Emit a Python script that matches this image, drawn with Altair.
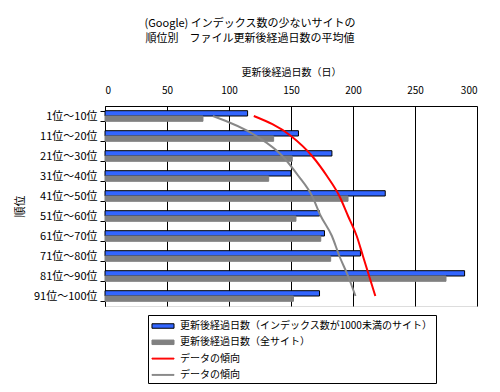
import altair as alt
import pandas as pd

ranks = ["1位～10位", "11位～20位", "21位～30位", "31位～40位", "41位～50位",
         "51位～60位", "61位～70位", "71位～80位", "81位～90位", "91位～100位"]
blue_vals = [115, 156, 183, 150, 226, 173, 177, 206, 290, 173]
gray_vals = [79, 136, 151, 132, 196, 154, 174, 182, 275, 152]
red_trend = [120, 150, 167, 179, 189, 196, 203, 208, 213, 218]
gray_trend = [87, 122, 143, 156, 167, 174, 183, 189, 196, 202]

s1 = "更新後経過日数（インデックス数が1000未満のサイト）"
s2 = "更新後経過日数（全サイト）"
t1 = "データの傾向1"
t2 = "データの傾向2"
series_domain = [s1, s2, t1, t2]
fill_colors = ["#3366FF", "#808080", "#FF0000", "#888888"]
stroke_colors = ["#000000", "#808080", "#FF0000", "#888888"]
legend_shapes = ["M-1.47,-0.3H1.47V0.3H-1.47Z", "M-1.47,-0.3H1.47V0.3H-1.47Z",
                 "M-1.47,-0.06H1.47V0.06H-1.47Z", "M-1.47,-0.06H1.47V0.06H-1.47Z"]

rows = []
for name, vals, kind in [(s1, blue_vals, "bar"), (s2, gray_vals, "bar"),
                         (t1, red_trend, "line"), (t2, gray_trend, "line")]:
    for r, v in zip(ranks, vals):
        rows.append({"rank": r, "series": name, "value": v, "kind": kind})
df = pd.DataFrame(rows)

FONT = "Noto Sans CJK JP"


def make_legend():
    return alt.Legend(
        orient="none", legendX=43, legendY=209, direction="vertical",
        title=None, fillColor="white", strokeColor="black", padding=3,
        rowPadding=3.3, symbolSize=225, symbolOffset=4, labelOffset=9,
        labelFontSize=10, labelFont=FONT, labelColor="black", labelLimit=400,
        symbolStrokeWidth=1, symbolOpacity=1,
        labelExpr="indexof(datum.label, 'データの傾向') == 0 ? 'データの傾向' : datum.label",
    )


color = alt.Color("series:N", scale=alt.Scale(domain=series_domain, range=fill_colors),
                  legend=make_legend())
stroke = alt.Stroke("series:N", scale=alt.Scale(domain=series_domain, range=stroke_colors),
                    legend=make_legend())
shape = alt.Shape("series:N", scale=alt.Scale(domain=series_domain, range=legend_shapes),
                  legend=make_legend())

y_enc = alt.Y(
    "rank:N", sort=ranks,
    scale=alt.Scale(paddingInner=0.47, paddingOuter=0.235),
    axis=alt.Axis(title="順位", tickBand="extent", tickSize=5, tickColor="black",
                  domainColor="black", labelPadding=3, labelFontSize=11,
                  labelFont=FONT, labelColor="black", titleFont=FONT,
                  titleFontSize=11, titleFontWeight="normal", titleColor="black",
                  titlePadding=8),
)
x_enc = alt.X(
    "value:Q",
    scale=alt.Scale(domain=[0, 300], nice=False),
    axis=alt.Axis(orient="top", values=[0, 50, 100, 150, 200, 250, 300],
                  title="更新後経過日数（日）", ticks=False, domainColor="black",
                  grid=True, gridColor="black", gridOpacity=1, gridWidth=1,
                  labelPadding=11, labelFontSize=10, labelFont=FONT,
                  labelColor="black", titleFont=FONT, titleFontSize=10,
                  titleFontWeight="normal", titleColor="black", titlePadding=8),
)

bars = alt.Chart(df).transform_filter(alt.datum.kind == "bar").mark_bar(strokeWidth=1).encode(
    x=x_enc,
    y=y_enc,
    yOffset=alt.YOffset("series:N", sort=[s1, s2], scale=alt.Scale(domain=[s1, s2], paddingInner=0)),
    color=color,
    stroke=stroke,
)

lines = alt.Chart(df).transform_filter(alt.datum.kind == "line").mark_line(
    strokeWidth=2, interpolate="monotone"
).encode(
    x="value:Q",
    y=alt.Y("rank:N", sort=ranks),
    stroke=stroke,
)

legend_layer = alt.Chart(df).transform_filter("false").mark_point(filled=True).encode(
    x="value:Q",
    y=alt.Y("rank:N", sort=ranks),
    shape=shape,
)

chart = alt.layer(bars, lines, legend_layer).properties(
    width=372, height=200,
    autosize=alt.AutoSizeParams(type="none"),
    padding={"left": 97, "top": 98, "right": 14, "bottom": 82},
    title=alt.TitleParams(
        text=["(Google) インデックス数の少ないサイトの", "順位別\u3000ファイル更新後経過日数の平均値"],
        font=FONT, fontSize=11, fontWeight="normal", color="black",
        anchor="middle", dx=-41, offset=23, lineHeight=15,
    ),
).configure_view(
    fill="#C0C0C0", stroke="#808080", strokeWidth=1
).configure(background="white")

chart.save("out.html", embed_options={"renderer": "svg", "actions": False})
